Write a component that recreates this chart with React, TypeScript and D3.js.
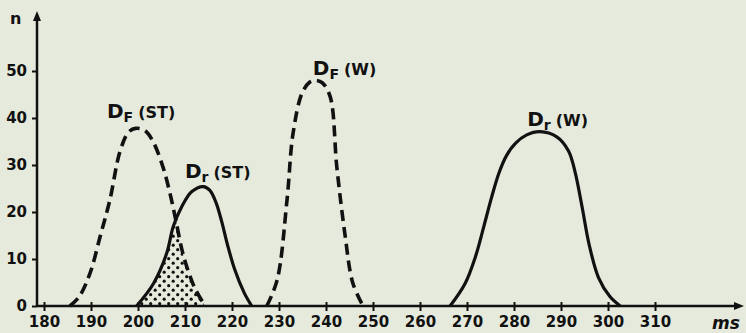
import React, { useEffect, useRef } from 'react';
import * as d3 from 'd3';

// values: [time in ms, n]
const dfST: [number, number][] = [
  [185.5, 0], [187.5, 2], [189.8, 7], [192, 15], [194, 22.5], [196.2, 33],
  [198, 37], [199.5, 37.8], [201.5, 37.3], [203.2, 35], [205.3, 29.6],
  [206.8, 24], [208, 18.5], [209.6, 11], [212, 4], [214.3, 0],
];
const drST: [number, number][] = [
  [199.7, 0], [203.3, 4.8], [206.1, 11.2], [207.5, 16.9], [209.3, 21.1],
  [211.4, 24.3], [213.9, 25.4], [215.3, 24.6], [216.6, 22], [217.8, 18],
  [219, 13.2], [220.6, 7.7], [222.6, 2.8], [224.2, 0],
];
const dfW: [number, number][] = [
  [227.4, 0], [229.6, 5.5], [231.7, 22.5], [233, 36.8], [234.9, 45.3],
  [236.5, 47.6], [237.7, 48], [239.2, 47.5], [240.9, 44.5], [242.3, 29.6],
  [244, 15.5], [245.7, 4.9], [247.9, 0],
];
const drW: [number, number][] = [
  [266.4, 0], [269.6, 4.8], [271.8, 10.5], [273.6, 17], [275.2, 23],
  [276.8, 28.3], [278.4, 32], [280.3, 34.6], [282.7, 36.4], [285.5, 37.1],
  [289.1, 36], [291.6, 33], [293, 28.5], [294.5, 21], [296, 13], [298, 6],
  [300.4, 2], [302.6, 0],
];

const xTicks = [180, 190, 200, 210, 220, 230, 240, 250, 260, 270, 280, 290, 300, 310];
const yTicks = [0, 10, 20, 30, 40, 50];

// curve labels: subscript, suffix, anchor (ms, n)
const labels = [
  { sub: 'F', rest: '(ST)', t: 193.4, n: 40 },
  { sub: 'r', rest: '(ST)', t: 210, n: 27.2 },
  { sub: 'F', rest: '(W)', t: 237.2, n: 49.1 },
  { sub: 'r', rest: '(W)', t: 282.8, n: 38.3 },
];

const W = 746;
const H = 333;
const FONT = '"DejaVu Sans", sans-serif';

export default function App() {
  const svgRef = useRef<SVGSVGElement>(null);

  useEffect(() => {
    document.body.style.margin = '0';
    const svg = d3.select(svgRef.current);
    svg.selectAll('*').remove();

    const x = d3.scaleLinear().domain([180, 310]).range([44, 655]);
    const y = d3.scaleLinear().domain([0, 50]).range([306, 71]);

    svg.append('rect').attr('width', W).attr('height', H).attr('fill', '#e6eadc');

    const defs = svg.append('defs');
    const pat = defs
      .append('pattern')
      .attr('id', 'dots')
      .attr('width', 9)
      .attr('height', 9)
      .attr('patternUnits', 'userSpaceOnUse');
    pat.append('circle').attr('cx', 2.2).attr('cy', 2.2).attr('r', 1.6).attr('fill', '#111');
    pat.append('circle').attr('cx', 6.7).attr('cy', 6.7).attr('r', 1.6).attr('fill', '#111');

    const curve = d3.curveCatmullRom.alpha(0.5);
    const line = d3
      .line<[number, number]>()
      .x((d) => x(d[0]))
      .y((d) => y(d[1]))
      .curve(curve);
    const area = d3
      .area<[number, number]>()
      .x((d) => x(d[0]))
      .y0(y(0))
      .y1((d) => y(d[1]))
      .curve(curve);

    // overlap of the two ST curves, dotted
    defs.append('clipPath').attr('id', 'clipF').append('path').attr('d', area(dfST));
    svg
      .append('path')
      .attr('d', area(drST))
      .attr('fill', 'url(#dots)')
      .attr('clip-path', 'url(#clipF)');

    // axes
    const xAxis = d3
      .axisBottom(x)
      .tickValues(xTicks)
      .tickSize(5)
      .tickFormat((d) => String(d));
    const gx = svg.append('g').attr('transform', `translate(0,${y(0)})`).call(xAxis);
    gx.select('.domain').remove();
    gx.selectAll('.tick line').attr('y1', -4).attr('y2', 5).attr('stroke', '#111').attr('stroke-width', 2);
    gx.selectAll('.tick text')
      .attr('y', 10)
      .attr('fill', '#111')
      .style('font-family', FONT)
      .style('font-weight', 'bold')
      .style('font-size', '15px');

    const yAxis = d3
      .axisLeft(y)
      .tickValues(yTicks)
      .tickSize(5)
      .tickFormat((d) => String(d));
    const gy = svg.append('g').attr('transform', 'translate(37,0)').call(yAxis);
    gy.select('.domain').remove();
    gy.selectAll('.tick line').attr('stroke', '#111').attr('stroke-width', 2);
    gy.selectAll('.tick text')
      .attr('x', -10)
      .attr('fill', '#111')
      .style('font-family', FONT)
      .style('font-weight', 'bold')
      .style('font-size', '15px');

    svg
      .append('line')
      .attr('x1', 37)
      .attr('x2', 37)
      .attr('y1', y(0) + 1)
      .attr('y2', 16)
      .attr('stroke', '#111')
      .attr('stroke-width', 2.5);
    svg.append('path').attr('d', 'M37,11 L33,21 L41,21 Z').attr('fill', '#111');
    svg
      .append('line')
      .attr('x1', 37)
      .attr('x2', 738)
      .attr('y1', y(0))
      .attr('y2', y(0))
      .attr('stroke', '#111')
      .attr('stroke-width', 2.5);
    svg.append('path').attr('d', `M744,${y(0)} L734,${y(0) - 4} L734,${y(0) + 4} Z`).attr('fill', '#111');

    svg
      .append('text')
      .attr('x', 10)
      .attr('y', 24)
      .text('n')
      .attr('fill', '#111')
      .style('font-family', FONT)
      .style('font-weight', 'bold')
      .style('font-size', '16px');
    svg
      .append('text')
      .attr('x', 712)
      .attr('y', 329)
      .text('ms')
      .attr('fill', '#111')
      .style('font-family', FONT)
      .style('font-weight', 'bold')
      .style('font-style', 'italic')
      .style('font-size', '17px');

    // curves
    const curves: [[number, number][], boolean][] = [
      [dfST, true],
      [drST, false],
      [dfW, true],
      [drW, false],
    ];
    curves.forEach(([d, dashed]) => {
      svg
        .append('path')
        .attr('d', line(d))
        .attr('fill', 'none')
        .attr('stroke', '#111')
        .attr('stroke-width', dashed ? 3.6 : 3.2)
        .attr('stroke-dasharray', dashed ? '11 6' : null)
        .attr('stroke-linejoin', 'round');
    });

    labels.forEach((l) => {
      const t = svg
        .append('text')
        .attr('x', x(l.t))
        .attr('y', y(l.n))
        .attr('fill', '#111')
        .style('font-family', FONT)
        .style('font-weight', 'bold');
      t.append('tspan').text('D').style('font-size', '20px');
      t.append('tspan').attr('dy', 4).text(l.sub).style('font-size', '14px');
      t.append('tspan').attr('dy', -4).attr('dx', 5).text(l.rest).style('font-size', '16px');
    });
  }, []);

  return <svg ref={svgRef} width={W} height={H} style={{ display: 'block' }} />;
}
